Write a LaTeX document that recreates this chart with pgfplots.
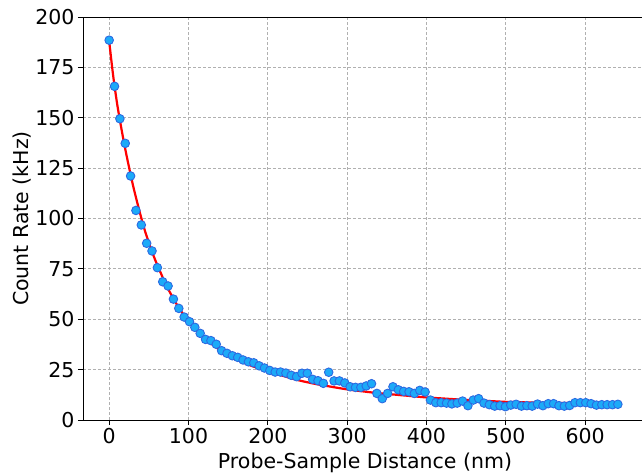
\documentclass[border=0pt]{standalone}
\usepackage{fontspec}
\setmainfont{DejaVu Sans}
\usepackage{pgfplots}
\pgfplotsset{compat=1.18}
\definecolor{ptfill}{RGB}{28,170,248}
\definecolor{ptedge}{RGB}{45,105,225}
\definecolor{gridgray}{RGB}{176,176,176}

\pgfplotstableread{
x y
0 188.5
6.75 165.6
13.5 149.5
20.25 137.3
27 121.1
33.75 104.0
40.5 96.8
47.25 87.7
54 83.9
60.75 75.6
67.5 68.6
74.25 66.5
81 60.0
87.75 55.4
94.5 51.1
101.25 48.8
108 46.0
114.75 43.0
121.5 40.0
128.25 39.4
135 37.6
141.75 34.4
148.5 33.1
155.25 31.9
162 31.1
168.75 29.8
175.5 28.9
182.25 28.4
189 26.9
195.75 25.8
202.5 24.6
209.25 23.8
216 23.8
222.75 23.3
229.5 22.2
236.25 21.5
243 23.2
249.75 23.2
256.5 20.2
263.25 19.5
270 18.2
276.75 23.7
283.5 19.4
290.25 19.4
297 18.4
303.75 16.5
310.5 16.2
317.25 16.2
324 16.9
330.75 18.0
337.5 13.2
344.25 10.6
351 13.2
357.75 16.5
364.5 15.0
371.25 14.2
378 14.0
384.75 13.2
391.5 14.7
398.25 13.9
405 9.9
411.75 8.6
418.5 8.6
425.25 8.4
432 8.0
438.75 8.4
445.5 9.4
452.25 7.1
459 9.9
465.75 10.6
472.5 8.4
479.25 7.6
486 6.9
492.75 7.1
499.5 6.6
506.25 7.4
513 7.8
519.75 6.9
526.5 7.1
533.25 6.9
540 7.9
546.75 7.1
553.5 8.1
560.25 8.1
567 7.1
573.75 6.9
580.5 7.2
587.25 8.6
594 8.6
600.75 8.6
607.5 8.1
614.25 7.4
621 7.6
627.75 7.6
634.5 7.6
641.25 7.8
}\measured

\pgfplotstableread{
x y
0 188
5 171
10 157
15 145.5
20 135
25 125.5
30 116.5
35 108.5
40 101
45 94
50 88
55 82.5
60 77.5
65 73
70 68.5
75 64.5
80 61
85 57.5
90 54.5
95 51.5
100 49
110 44.5
120 40.8
130 37.5
140 34.6
150 32.2
160 30.2
170 28.4
180 26.8
190 25.5
200 24.3
220 21.8
240 19.6
260 17.9
280 16.5
300 15.2
320 14.2
340 13.3
360 12.6
380 11.9
400 11.2
420 10.7
440 10.2
460 9.8
480 9.4
500 9.0
520 8.8
540 8.6
560 8.5
580 8.4
600 8.3
620 8.2
641.25 8.1
}\fitted

\begin{document}
\begin{tikzpicture}
\begin{axis}[
  scale only axis, width=564pt, height=403pt,
  xmin=-33, xmax=678, ymin=0, ymax=200,
  axis x line*=box, axis y line*=left,
  xtick={0,100,...,600}, ytick={0,25,...,200},
  tick pos=left, tick align=outside,
  major tick length=5pt,
  tick style={black, line width=0.9pt},
  axis line style={black, line width=0.9pt},
  grid=major,
  major grid style={gridgray, dash pattern=on 3pt off 2pt, line width=0.8pt},
  /pgf/number format/assume math mode=true,
  tick label style={font=\fontsize{20.5}{24}\selectfont},
  label style={font=\fontsize{20.5}{24}\selectfont},
  xlabel={Probe-Sample Distance (nm)},
  ylabel={Count Rate (kHz)},
  xlabel style={at={(axis description cs:0.5,-0.106)}, anchor=center},
  ylabel style={at={(axis description cs:-0.108,0.5)}, anchor=center},
]
\addplot[only marks, mark=*, mark size=4.3pt,
  mark options={fill=ptfill, draw=ptedge, line width=0.9pt}] table {\measured};
\addplot[red, line width=2.2pt, smooth] table {\fitted};
\end{axis}
\pgfresetboundingbox
\useasboundingbox (-83pt,-55pt) rectangle (559pt,420pt);
\end{tikzpicture}
\end{document}
